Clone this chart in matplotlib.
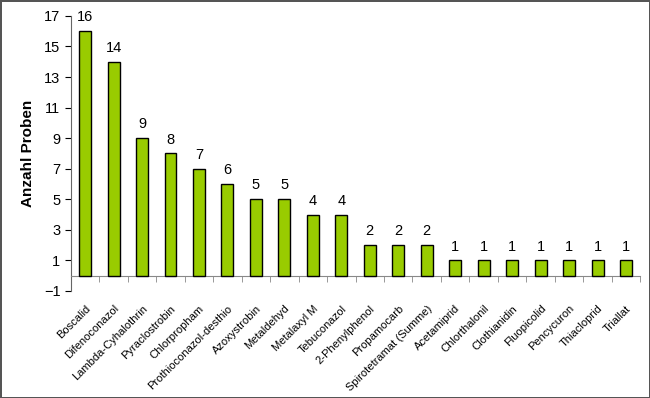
import matplotlib.pyplot as plt
import numpy as np

wirkstoffe = ['Boscalid', 'Difenoconazol', 'Lambda-Cyhalothrin', 'Pyraclostrobin',
              'Chlorpropham', 'Prothioconazol-desthio', 'Azoxystrobin', 'Metaldehyd',
              'Metalaxyl M', 'Tebuconazol', '2-Phenylphenol', 'Propamocarb',
              'Spirotetramat (Summe)', 'Acetamiprid', 'Chlorthalonil', 'Clothianidin',
              'Fluopicolid', 'Pencycuron', 'Thiacloprid', 'Triallat']
anzahl = [16, 14, 9, 8, 7, 6, 5, 5, 4, 4, 2, 2, 2, 1, 1, 1, 1, 1, 1, 1]
y_ticks = [-1, 1, 3, 5, 7, 9, 11, 13, 15, 17]

plt.rcParams['font.family'] = ['Liberation Sans', 'DejaVu Sans']

fig = plt.figure(figsize=(6.5, 3.98), dpi=100)
fig.patch.set_edgecolor('#555555')
fig.patch.set_linewidth(2)
ax = fig.add_axes([0.109, 0.269, 0.876, 0.691])

x = np.arange(len(wirkstoffe))
ax.bar(x, anzahl, width=0.42, color='#99CC00', edgecolor='black', linewidth=1, zorder=3)
for xi, v in zip(x, anzahl):
    ax.text(xi, v + 0.45, str(v), ha='center', va='bottom', fontsize=10.5)

ax.set_xlim(-0.5, len(wirkstoffe) - 0.5)
ax.set_ylim(-1, 17)
ax.set_yticks(y_ticks)
ax.tick_params(axis='y', labelsize=10.5, length=4, direction='out')

ax.spines['top'].set_visible(False)
ax.spines['right'].set_visible(False)
ax.spines['bottom'].set_position(('data', 0))
ax.spines['bottom'].set_color('#888888')
ax.spines['left'].set_color('#666666')

ax.set_xticks(x)
ax.set_xticklabels(wirkstoffe, rotation=45, ha='right', rotation_mode='anchor', fontsize=8)
ax.tick_params(axis='x', which='major', length=0, pad=20)
ax.set_xticks(np.arange(len(wirkstoffe) + 1) - 0.5, minor=True)
ax.tick_params(axis='x', which='minor', length=4, color='#888888')

ax.set_ylabel('Anzahl Proben', fontsize=11, fontweight='bold', labelpad=6)

fig.savefig('out.png')
